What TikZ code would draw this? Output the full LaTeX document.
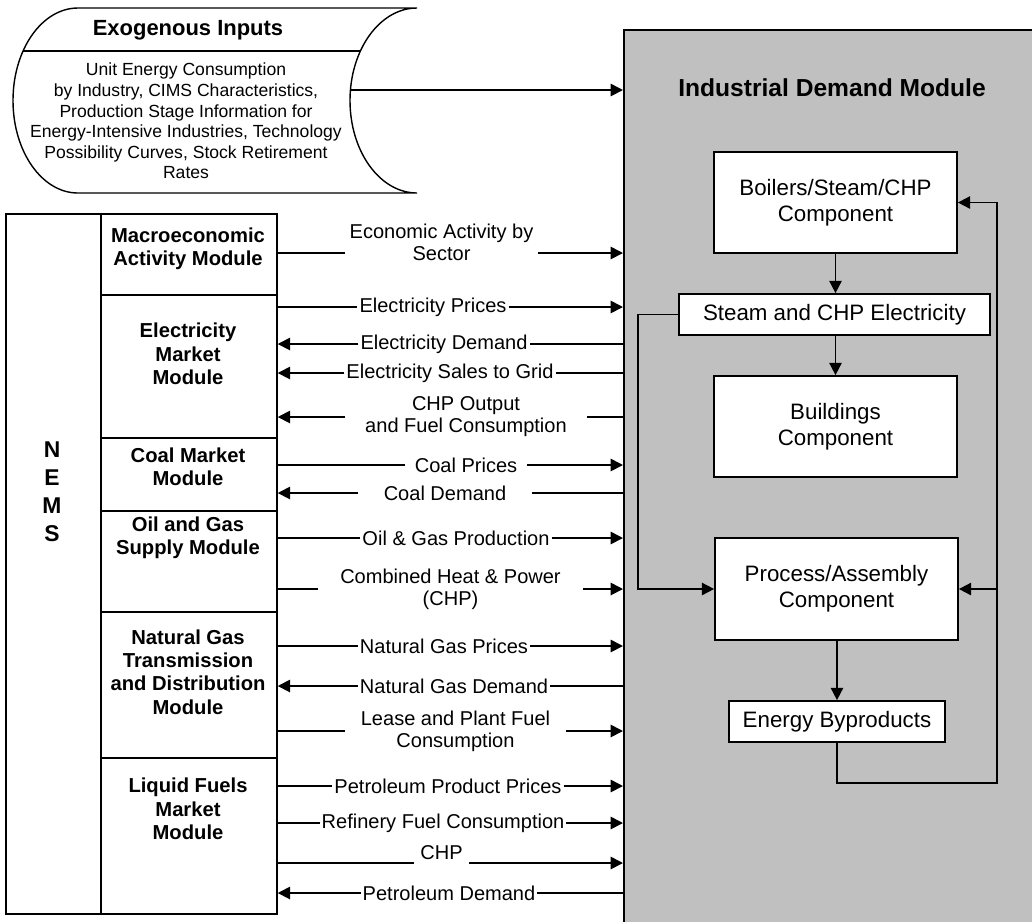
\documentclass[tikz,border=0pt]{standalone}
\usepackage{fontspec}
\setmainfont{Liberation Sans}
\usetikzlibrary{arrows.meta, positioning, calc}
\definecolor{idmgray}{RGB}{192, 192, 192}
\tikzset{
    modbox/.style={rectangle, draw, line width=1pt, minimum width=3.52cm, inner sep=0pt, anchor=north west},
    modtext/.style={align=center, font=\bfseries\fontsize{11.5}{13.3}\selectfont},
    compbox/.style={rectangle, draw, fill=white, line width=1pt, inner sep=0pt, align=center,
                    font=\fontsize{12.7}{14.7}\selectfont},
    flowlbl/.style={align=center, inner xsep=1pt, inner ysep=0pt, font=\fontsize{11.4}{12.5}\selectfont},
    flow/.style={-{Triangle[length=7pt, width=7pt]}, line width=1pt},
    link/.style={line width=1pt},
}

\begin{document}
\begin{tikzpicture}[x=0.02cm, y=-0.02cm]
    \useasboundingbox (0,0) rectangle (1032,921);

    % Exogenous inputs
    \draw[line width=0.8pt, fill=white] (78,8) -- (417,8)
        .. controls (380,8) and (350,49.4) .. (350,100.5)
        .. controls (350,151.6) and (380,193) .. (417,193) -- (78,193)
        .. controls (42,193) and (13,151.6) .. (13,100.5)
        .. controls (13,49.4) and (42,8) .. (78,8) -- cycle;
    \draw[line width=0.8pt] (23,51) -- (360,51);
    \node[font=\bfseries\fontsize{12.5}{15}\selectfont] (exotitle) at (188,30) {Exogenous Inputs};
    \node[align=center, font=\fontsize{10}{11.7}\selectfont] (exobody) at (186,121)
        {Unit Energy Consumption\\by Industry, CIMS Characteristics,\\Production Stage Information for\\
         Energy-Intensive Industries, Technology\\Possibility Curves, Stock Retirement\\Rates};
    \coordinate (exoR) at (351,90);

    % Industrial Demand Module
    \node[draw, fill=idmgray, line width=1pt, anchor=north west, inner sep=0pt,
          minimum width=8.4cm, minimum height=18.2cm] (idm) at (623,29) {};
    \node[font=\bfseries\fontsize{14}{16}\selectfont] (idmtitle) at (832,88) {Industrial Demand Module};
    \draw[flow] (exoR) -- (idm.west |- exoR);

    \node[compbox, minimum width=4.86cm, minimum height=2.02cm] (boil) at (835.5,202.5) {Boilers/Steam/CHP\\Component};
    \node[compbox, minimum width=6.22cm, minimum height=0.82cm] (steam) at (834.5,314.5) {Steam and CHP Electricity};
    \node[compbox, minimum width=4.86cm, minimum height=2.02cm] (bldg) at (835.5,426.5) {Buildings\\Component};
    \node[compbox, minimum width=4.86cm, minimum height=2.04cm] (proc) at (836.5,589) {Process/Assembly\\Component};
    \node[compbox, minimum width=4.32cm, minimum height=0.82cm] (byp) at (837,721.5) {Energy Byproducts};

    \draw[flow] (boil.south) -- (boil.south |- steam.north);
    \draw[flow] (steam.south -| bldg.north) -- (bldg.north);
    \draw[flow] (proc.south -| byp.north) -- (byp.north);
    \draw[flow] (steam.west) -- ++(-40,0) |- (proc.west);
    \draw[flow] (byp.south) -- ++(0,40) -- ++(160,0) coordinate (rloop) |- (boil.east);
    \draw[flow] (rloop |- proc.east) -- (proc.east);

    % NEMS
    \node[modbox, minimum width=1.9cm, minimum height=14cm] (nems) at (5,213) {};
    \node[align=center, font=\bfseries\fontsize{13}{15.9}\selectfont] (nemstext) at (52,492) {N\\E\\M\\S};

    \node[modbox, minimum height=1.62cm] (mac) at (100,213) {};
    \node[modbox, minimum height=2.86cm] (ele) at (100,294) {};
    \node[modbox, minimum height=1.46cm] (coa) at (100,437) {};
    \node[modbox, minimum height=2.02cm] (oil) at (100,510) {};
    \node[modbox, minimum height=2.92cm] (nga) at (100,611) {};
    \node[modbox, minimum height=3.12cm] (liq) at (100,757) {};

    \node[modtext] (tmac) at (188,249) {Macroeconomic\\Activity Module};
    \node[modtext] (tele) at (188,354) {Electricity\\Market\\Module};
    \node[modtext] (tcoa) at (188,467) {Coal Market\\Module};
    \node[modtext] (toil) at (188,538) {Oil and Gas\\Supply Module};
    \node[modtext] (tnga) at (188,672) {Natural Gas\\Transmission\\and Distribution\\Module};
    \node[modtext] (tliq) at (188,809) {Liquid Fuels\\Market\\Module};

    % Macroeconomic flows
    \node[flowlbl, minimum width=3.86cm] (fEA) at (441.5,253) {Economic Activity by\\Sector\\\mbox{}};
    \draw[link] (mac.east |- fEA) -- (fEA.west); \draw[flow] (fEA.east) -- (idm.west |- fEA);

    % Electricity flows
    \node[flowlbl] (fEP) at (433,307) {Electricity Prices};
    \draw[link] (ele.east |- fEP) -- (fEP.west); \draw[flow] (fEP.east) -- (idm.west |- fEP);
    \node[flowlbl] (fED) at (444,344) {Electricity Demand};
    \draw[link] (idm.west |- fED) -- (fED.east); \draw[flow] (fED.west) -- (ele.east |- fED);
    \node[flowlbl] (fES) at (450,373) {Electricity Sales to Grid};
    \draw[link] (idm.west |- fES) -- (fES.east); \draw[flow] (fES.west) -- (ele.east |- fES);
    \node[flowlbl, minimum width=4.84cm] (fCO) at (466,417) {CHP Output\\and Fuel Consumption};
    \draw[link] (idm.west |- fCO) -- (fCO.east); \draw[flow] (fCO.west) -- (ele.east |- fCO);

    % Coal flows
    \node[flowlbl, minimum width=2.44cm] (fCP) at (466,465) {Coal Prices};
    \draw[link] (coa.east |- fCP) -- (fCP.west); \draw[flow] (fCP.east) -- (idm.west |- fCP);
    \node[flowlbl, minimum width=3.48cm] (fCD) at (445,493) {Coal Demand};
    \draw[link] (idm.west |- fCD) -- (fCD.east); \draw[flow] (fCD.west) -- (coa.east |- fCD);

    % Oil and gas flows
    \node[flowlbl] (fOG) at (456,538) {Oil \& Gas Production};
    \draw[link] (oil.east |- fOG) -- (fOG.west); \draw[flow] (fOG.east) -- (idm.west |- fOG);
    \node[flowlbl, minimum width=5.3cm] (fHP) at (450.5,589) {Combined Heat \& Power\\(CHP)};
    \draw[link] (oil.east |- fHP) -- (fHP.west); \draw[flow] (fHP.east) -- (idm.west |- fHP);

    % Natural gas flows
    \node[flowlbl] (fNP) at (444,646) {Natural Gas Prices};
    \draw[link] (nga.east |- fNP) -- (fNP.west); \draw[flow] (fNP.east) -- (idm.west |- fNP);
    \node[flowlbl] (fND) at (454,686) {Natural Gas Demand};
    \draw[link] (idm.west |- fND) -- (fND.east); \draw[flow] (fND.west) -- (nga.east |- fND);
    \node[flowlbl, minimum width=4.42cm] (fLP) at (455.5,731) {Lease and Plant Fuel\\Consumption};
    \draw[link] (nga.east |- fLP) -- (fLP.west); \draw[flow] (fLP.east) -- (idm.west |- fLP);

    % Liquid fuels flows
    \node[flowlbl] (fPP) at (448,786) {Petroleum Product Prices};
    \draw[link] (liq.east |- fPP) -- (fPP.west); \draw[flow] (fPP.east) -- (idm.west |- fPP);
    \node[flowlbl] (fRF) at (443,823) {Refinery Fuel Consumption};
    \draw[link] (liq.east |- fRF) -- (fRF.west); \draw[flow] (fRF.east) -- (idm.west |- fRF);
    \node[flowlbl, minimum width=1.1cm] (fCH) at (441.5,863) {CHP\\\mbox{}};
    \draw[link] (liq.east |- fCH) -- (fCH.west); \draw[flow] (fCH.east) -- (idm.west |- fCH);
    \node[flowlbl] (fPD) at (449,893) {Petroleum Demand};
    \draw[link] (idm.west |- fPD) -- (fPD.east); \draw[flow] (fPD.west) -- (liq.east |- fPD);
\end{tikzpicture}
\end{document}
